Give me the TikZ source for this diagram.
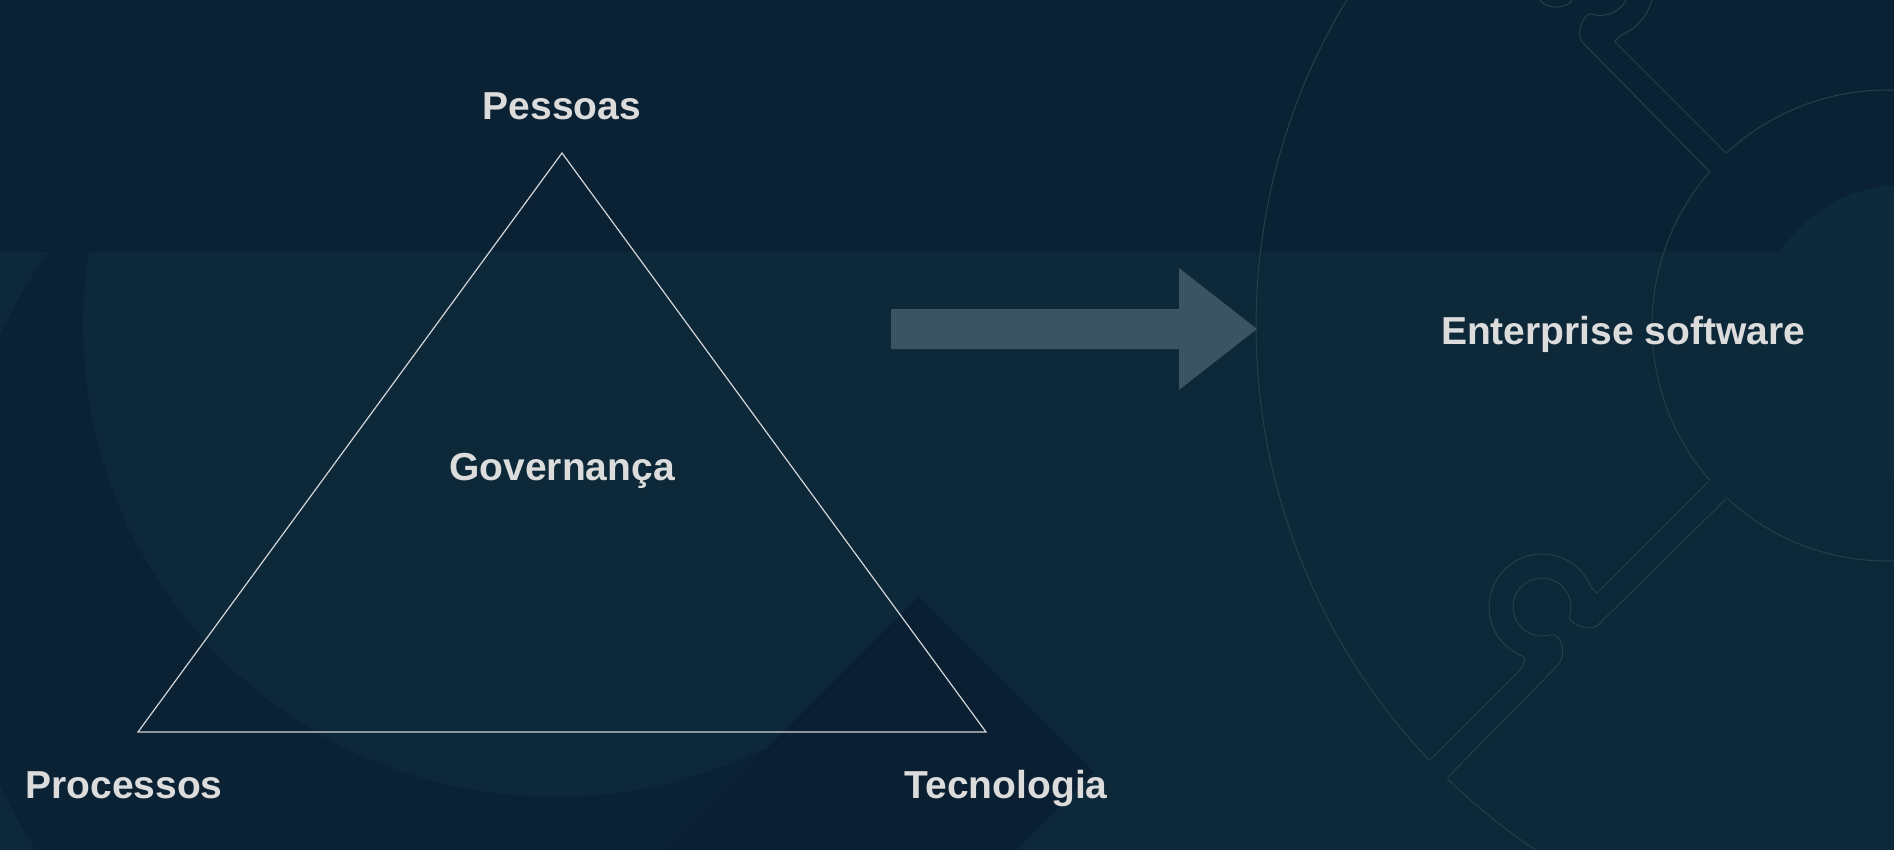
\documentclass[tikz,border=0pt]{standalone}
\usepackage{fontspec}
\setmainfont{Liberation Sans}
\usetikzlibrary{positioning, calc}

\definecolor{bgtop}{HTML}{0B2235}
\definecolor{bgband}{HTML}{0C2839}
\definecolor{bgdeep}{HTML}{0A1F32}
\definecolor{bglight}{HTML}{0D2A3B}
\definecolor{arrowfill}{HTML}{3C5361}
\definecolor{labelgray}{HTML}{DCDCDC}
\definecolor{triline}{HTML}{D2D6D9}
\definecolor{puzzleline}{HTML}{23414B}

\begin{document}
\begin{tikzpicture}[
  x=1pt, y=1pt,
  heading/.style={text=labelgray, font=\fontsize{39}{47}\selectfont\bfseries, inner sep=0pt, outer sep=0pt},
  tri/.style={draw=triline, line width=1.2pt, line join=miter},
  puzzle/.style={draw=puzzleline, line width=1pt}
]
\useasboundingbox (0,0) rectangle (1894,-850);
\clip (0,0) rectangle (1894,-850);

% Background
\fill[bgtop] (0,0) rectangle (1894,-850);
\fill[bgband] (0,-252) rectangle (1894,-850);
\begin{scope}
  \clip (0,-252) -- (562,-252) -- (562,-750) -- (765,-750) -- (665,-850) -- (0,-850) -- cycle;
  \clip (480,-560) circle (530);
  \fill[bgtop, even odd rule] (0,-252) rectangle (800,-850) (555,-325) circle (472);
\end{scope}
\fill[bgdeep] (918,-597) -- (1093,-772) -- (1015,-850) -- (665,-850) -- cycle;
\fill[bglight] (1903,-331) circle (146);

% Puzzle ring
\draw[puzzle] (1887,-326) ++(223.5:631) arc[start angle=223.5, end angle=136.5, radius=631];
\draw[puzzle] (1887,-326) ++(225.8:631) arc[start angle=225.8, end angle=252, radius=631];
\draw[puzzle] (1887,-326) ++(221.1:235) arc[start angle=221.1, end angle=138.9, radius=235];
\draw[puzzle] (1887,-326) ++(227.1:235) arc[start angle=227.1, end angle=275, radius=235];
\draw[puzzle] (1887,-326) ++(132.9:236) arc[start angle=132.9, end angle=85, radius=236];
\foreach \rot/\sh in {0/0, -90/-5.5} {
  \begin{scope}[shift={(\sh,\sh)}, rotate around={\rot:(1887,-326)}]
    \draw[puzzle] (1708,-482) -- (1597,-593) -- (1591.2,-587.3)
      arc[start angle=21.8, end angle=248.6, radius=53]
      .. controls +(5,-2) and +(4,4) .. (1518,-672) -- (1431,-759);
    \draw[puzzle] (1726,-499) -- (1598,-625)
      .. controls +(-8,-8) and +(-2.2,-6.6) .. (1569.5,-616.2)
      arc[start angle=-18.4, end angle=285, radius=29]
      .. controls +(13.5,3.6) and +(8.5,8.5) .. (1558,-665) -- (1448,-777);
  \end{scope}
}

% Arrow
\coordinate (arrtail) at (891,-329);
\coordinate (arrtip) at (1257,-329);
\fill[arrowfill] ($(arrtail)+(0,20)$) -- ($(arrtip)+(-78,20)$) -- ($(arrtip)+(-78,61)$)
  -- (arrtip) -- ($(arrtip)+(-78,-61)$) -- ($(arrtip)+(-78,-20)$) -- ($(arrtail)+(0,-20)$) -- cycle;

% Triangle
\coordinate (topc) at (562,-153);
\coordinate (leftc) at (138,-732);
\coordinate (rightc) at (986,-732);
\draw[tri] (topc) -- (leftc) -- (rightc) -- cycle;

% Labels
\node[heading, above=33pt of topc] (pessoas) {Pessoas};
\node[heading, below=300pt of topc] (gov) {Governança};
\node[heading, below=40pt of leftc, xshift=-14pt] (proc) {Processos};
\node[heading, below=38pt of rightc, xshift=20pt] (tec) {Tecnologia};
\node[heading, right=184pt of arrtip, yshift=-5pt] (ent) {Enterprise software};

\end{tikzpicture}
\end{document}
